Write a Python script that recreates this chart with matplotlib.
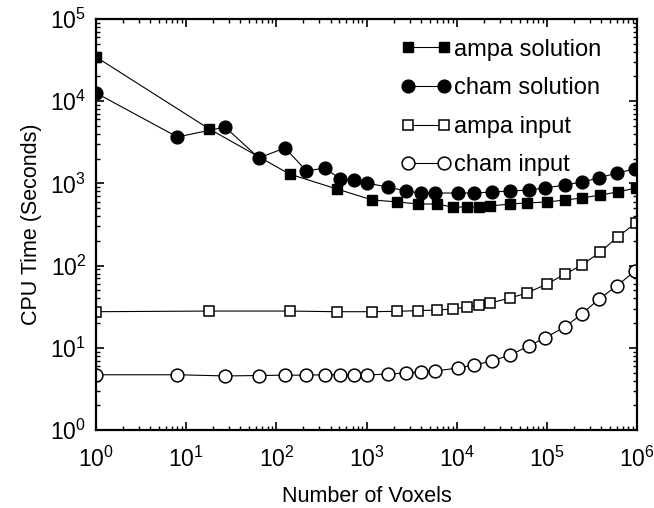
import matplotlib.pyplot as plt

plt.rcParams["font.family"] = ["Liberation Sans", "DejaVu Sans"]
plt.rcParams["mathtext.fontset"] = "custom"
plt.rcParams["mathtext.rm"] = "Liberation Sans"
plt.rcParams["mathtext.it"] = "Liberation Sans"

# voxel counts for the two meshes
ampa_x = [1, 18, 140, 470, 1150, 2200, 3700, 6000, 9000, 13000, 17500, 23500,
          39000, 60000, 100000, 160000, 245000, 390000, 610000, 970000]
cham_x = [1, 8, 27, 64, 125, 216, 343, 512, 729, 1000, 1728, 2744, 4000, 5800,
          10300, 15600, 24500, 39000, 63000, 95000, 158000, 245000, 377000,
          597000, 950000]

ampa_solution = [34500, 4600, 1300, 855, 630, 595, 562, 562, 516, 516, 516,
                 531, 562, 578, 594, 628, 664, 722, 786, 878]
cham_solution = [12600, 3670, 4850, 2040, 2700, 1415, 1540, 1130, 1100, 1010,
                 904, 809, 764, 764, 764, 764, 786, 809, 831, 879, 957, 1041,
                 1164, 1340, 1497]
ampa_input = [27.5, 28, 28, 27.5, 27.5, 27.8, 28.3, 28.8, 29.6, 31.4, 33.2,
              35.1, 40.3, 46.4, 59.7, 79, 101.7, 146, 223, 330]
cham_input = [4.7, 4.7, 4.55, 4.6, 4.65, 4.65, 4.7, 4.7, 4.7, 4.67, 4.8, 4.94,
              5.08, 5.22, 5.68, 6.18, 6.91, 8.17, 10.5, 13.2, 17.9, 25.8, 39.2,
              56.5, 86]

fig = plt.figure(figsize=(6.54, 5.08), dpi=100)
ax = fig.add_axes([0.1468, 0.1535, 0.8272, 0.8091])

ax.loglog(ampa_x, ampa_solution, "k-", marker="s", ms=7.5, lw=0.8,
          label="ampa solution")
ax.loglog(cham_x, cham_solution, "k-", marker="o", ms=9.2, lw=0.8,
          label="cham solution")
ax.loglog(ampa_x, ampa_input, "k-", marker="s", ms=7.5, lw=0.8, mfc="white",
          mew=1.1, label="ampa input")
ax.loglog(cham_x, cham_input, "k-", marker="o", ms=9.2, lw=0.8, mfc="white",
          mew=1.1, label="cham input")

ax.set_xlim(1, 1e6)
ax.set_ylim(1, 1e5)
ax.set_xlabel("Number of Voxels", fontsize=15.5, labelpad=10)
ax.set_ylabel("CPU Time (Seconds)", fontsize=15.5, labelpad=6)

for s in ax.spines.values():
    s.set_linewidth(1.6)
ax.tick_params(which="both", direction="in", top=True, right=True,
               labelsize=16.5)
ax.tick_params(which="major", length=6, width=1.2)
ax.tick_params(which="minor", length=3, width=1)
ax.tick_params(axis="x", which="major", pad=12)
ax.tick_params(axis="y", which="major", pad=7)

ax.legend(loc="upper right", bbox_to_anchor=(0.952, 0.975), frameon=False,
          numpoints=2, fontsize=17, handlelength=2.1, handletextpad=0.15,
          labelspacing=0.7, borderaxespad=0)

fig.savefig("out.png", dpi=100)
